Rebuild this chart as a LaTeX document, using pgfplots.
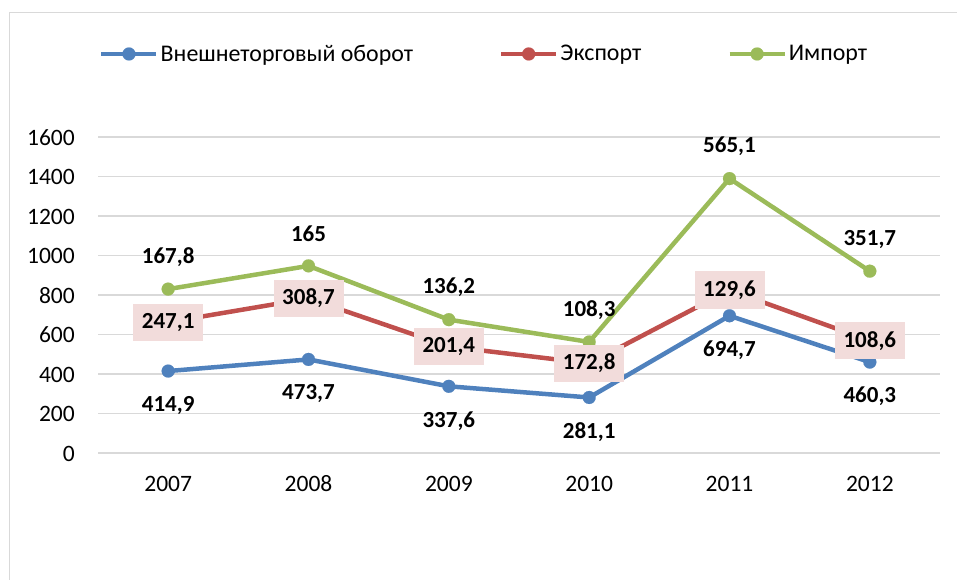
\documentclass[border=0pt]{standalone}
\usepackage{pgfplots}
\pgfplotsset{compat=1.18}
\usepackage{pgfplotstable}
\usepackage{fontspec}
\setmainfont{Carlito}
\definecolor{cblue}{HTML}{4F81BD}
\definecolor{cred}{HTML}{C0504D}
\definecolor{cgreen}{HTML}{9BBB59}
\definecolor{cgrid}{HTML}{D9D9D9}
\definecolor{clab}{HTML}{F2DCDB}
\pgfplotstableread{
x turn exp imp
0 414.9 247.1 167.8
1 473.7 308.7 165
2 337.6 201.4 136.2
3 281.1 172.8 108.3
4 694.7 129.6 565.1
5 460.3 108.6 351.7
}\data
\begin{document}
\begin{tikzpicture}
\path[use as bounding box] (0,0) rectangle (957pt,580pt);
\draw[cgrid, line width=1pt] (9.5pt,0pt) -- (9.5pt,567.5pt) -- (957pt,567.5pt);
\begin{axis}[
  at={(98pt,127pt)}, anchor=south west,
  scale only axis, width=842pt, height=316pt,
  xmin=-0.5, xmax=5.5, ymin=0, ymax=1600,
  xtick={0,...,5}, xticklabels={2007,2008,2009,2010,2011,2012},
  ytick={0,200,...,1600},
  axis line style={draw=none},
  major tick length=0pt,
  ymajorgrids, grid style={cgrid, line width=1.5pt},
  ticklabel style={font=\fontsize{23.5}{28}\selectfont, inner sep=0pt},
  yticklabel style={anchor=base east, xshift=-23pt, yshift=-8.5pt},
  xticklabel style={anchor=base, yshift=-39pt},
  /pgf/number format/assume math mode=true,
  /pgf/number format/use comma,
  /pgf/number format/1000 sep={},
  clip=false,
  legend columns=3,
  legend style={at={(0.0012,1.2627)}, anchor=west, draw=none, fill=none, inner sep=0pt,
    font=\fontsize{23.9}{28}\selectfont,
    nodes={inner sep=0pt},
    /tikz/every odd column/.append style={column sep=2pt},
    /tikz/every even column/.append style={column sep=86pt}},
  legend image code/.code={\draw[mark repeat=2,mark phase=2] plot coordinates {(0pt,0pt) (27.5pt,0pt) (55pt,0pt)};},
  every axis plot/.append style={line width=4.5pt, mark=*, mark size=6.5pt, mark options={solid, line width=0.1pt}},
  every node near coord/.append style={font=\bfseries\fontsize{23}{27}\selectfont, text=black, anchor=center},
]
\addplot[color=cblue, nodes near coords, point meta=\thisrow{turn},
  every node near coord/.append style={yshift=-34.5pt}]
  table[x=x, y=turn] {\data};
\addlegendentry{Внешнеторговый оборот}
\addplot[color=cred] table[x=x, y expr=\thisrow{turn}+\thisrow{exp}] {\data};
\addlegendentry{Экспорт}
\addplot[color=cgreen, nodes near coords, point meta=\thisrow{imp},
  every node near coord/.append style={yshift=32pt}]
  table[x=x, y expr=\thisrow{turn}+\thisrow{exp}+\thisrow{imp}] {\data};
\addlegendentry{Импорт}
\addplot[draw=none, mark=none, forget plot, nodes near coords, point meta=\thisrow{exp},
  every node near coord/.append style={fill=clab, inner sep=0pt, minimum width=70pt, minimum height=37.5pt}]
  table[x=x, y expr=\thisrow{turn}+\thisrow{exp}] {\data};
\end{axis}
\end{tikzpicture}
\end{document}
